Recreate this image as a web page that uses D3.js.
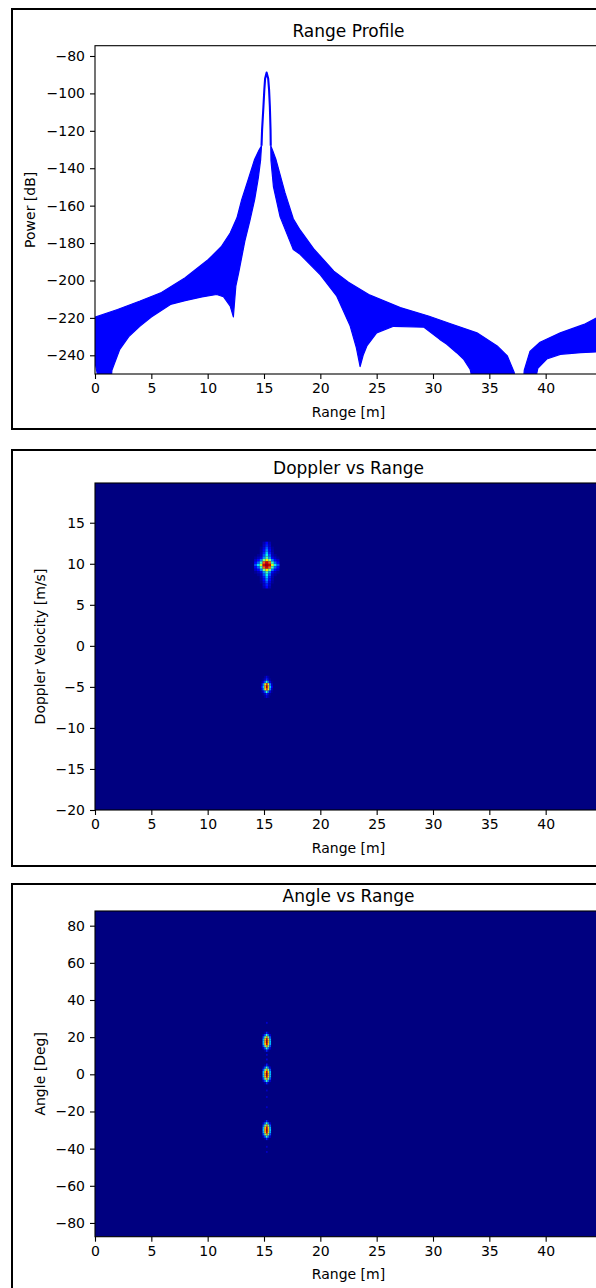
<!DOCTYPE html>
<html>
<head>
<meta charset="utf-8">
<script src="https://cdn.jsdelivr.net/npm/d3@7"></script>
<style>
  body { margin: 0; background: #fff; }
  text { font-family: "DejaVu Sans", sans-serif; fill: #000; }
</style>
</head>
<body>
<script>
// ---- data ----
const rangeTicks = [0, 5, 10, 15, 20, 25, 30, 35, 40];
const powerTicks = [-240, -220, -200, -180, -160, -140, -120, -100, -80];
const velocityTicks = [-20, -15, -10, -5, 0, 5, 10, 15];
const angleTicks = [-80, -60, -40, -20, 0, 20, 40, 60, 80];

// range profile: the trace oscillates so fast it shows as a band, kept as envelopes
const leftUpperX = [0, 2, 4, 5.9, 8, 10.06, 11.2, 12.0, 12.6, 13.02, 13.6, 14.15, 14.5, 14.78];
const leftUpperDb = [-219.6, -215.5, -211, -206.4, -198.5, -188.8, -182, -174.6, -166.5, -156.8, -146, -135.5, -131, -128];
const leftLowerX = [0, 0.4, 1.4, 1.5, 2.2, 3, 4, 5, 6.7, 8, 9.5, 10.8, 11.4, 12.0, 12.28, 12.5, 12.75, 13.3, 13.75, 14.17, 14.5, 14.7, 14.78];
const leftLowerDb = [-243.7, -256, -256, -248, -236.8, -230, -224.4, -219.5, -212.8, -210.8, -208.8, -207.5, -208.7, -213.7, -219.5, -203, -196, -179, -168, -156.8, -145, -135.5, -128];

const lobeX = [14.78, 14.83, 14.95, 15.03, 15.1, 15.23, 15.37, 15.45, 15.52, 15.58, 15.6];
const lobeDb = [-128, -119.5, -107, -98, -92, -88.9, -92, -98, -107, -119.5, -128];

const rightUpperX = [15.6, 15.8, 16.07, 16.87, 17.6, 18.2, 19.4, 21.2, 22.5, 24.3, 27.1, 29.6, 31.5, 33.9, 35.7, 36.6, 37.2, 37.4];
const rightUpperDb = [-128, -131, -135.5, -153.2, -167, -173, -183, -195, -201, -207.5, -214.5, -219, -223, -228, -235, -240.4, -249, -256];
const rightLowerX = [15.6, 15.62, 15.84, 16.43, 17.6, 18.2, 20.0, 21.46, 22.65, 23.2, 23.53, 23.8, 24.13, 25.0, 26.5, 29.2, 30.6, 31.2, 32.1, 32.7, 33.3, 33.6];
const rightLowerDb = [-128, -136, -150, -166, -183.5, -186, -197, -208.4, -224.4, -236, -246, -240, -235, -228, -224.5, -225, -231.5, -234, -238.6, -242, -247.5, -256];

const farUpperX = [38.0, 38.1, 38.6, 39.5, 41.3, 43.4, 44.5, 45.2];
const farUpperDb = [-256, -248, -238, -233, -228, -223.5, -220, -218];
const farLowerX = [39.0, 39.3, 40.1, 41.3, 43.1, 45.2];
const farLowerDb = [-256, -247, -242, -239.5, -238.6, -238];

// doppler map targets
const dopplerRanges = [15.25, 15.25];
const dopplerVelocities = [9.84, -5.0];
const dopplerCellA = [0.25, 0.3];
const dopplerCellB = [0.15, 0.3];
const dopplerSpotA = [
  [0, 0, 0, 0.04, 0.11, 0.04, 0, 0, 0],
  [0, 0, 0, 0.06, 0.15, 0.06, 0, 0, 0],
  [0, 0, 0.02, 0.08, 0.2, 0.08, 0.02, 0, 0],
  [0, 0, 0.03, 0.11, 0.25, 0.11, 0.03, 0, 0],
  [0, 0, 0.04, 0.15, 0.31, 0.15, 0.04, 0, 0],
  [0, 0.02, 0.05, 0.2, 0.36, 0.2, 0.05, 0.02, 0],
  [0.02, 0.05, 0.1, 0.27, 0.44, 0.27, 0.1, 0.05, 0.02],
  [0.06, 0.12, 0.24, 0.5, 0.66, 0.5, 0.24, 0.12, 0.06],
  [0.12, 0.22, 0.42, 0.8, 0.92, 0.8, 0.42, 0.22, 0.12],
  [0.2, 0.35, 0.6, 0.92, 0.97, 0.92, 0.6, 0.35, 0.2],
  [0.12, 0.22, 0.42, 0.8, 0.92, 0.8, 0.42, 0.22, 0.12],
  [0.06, 0.12, 0.24, 0.5, 0.66, 0.5, 0.24, 0.12, 0.06],
  [0.02, 0.05, 0.1, 0.27, 0.44, 0.27, 0.1, 0.05, 0.02],
  [0, 0.02, 0.05, 0.2, 0.36, 0.2, 0.05, 0.02, 0],
  [0, 0, 0.04, 0.15, 0.31, 0.15, 0.04, 0, 0],
  [0, 0, 0.03, 0.11, 0.25, 0.11, 0.03, 0, 0],
  [0, 0, 0.02, 0.08, 0.2, 0.08, 0.02, 0, 0],
  [0, 0, 0, 0.06, 0.15, 0.06, 0, 0, 0],
  [0, 0, 0, 0.04, 0.11, 0.04, 0, 0, 0]
];
const dopplerSpotB = [
  [0, 0, 0.03, 0.08, 0.03, 0, 0],
  [0, 0.02, 0.06, 0.16, 0.06, 0.02, 0],
  [0.02, 0.08, 0.22, 0.42, 0.22, 0.08, 0.02],
  [0.06, 0.25, 0.62, 0.85, 0.62, 0.25, 0.06],
  [0.12, 0.32, 0.72, 0.96, 0.72, 0.32, 0.12],
  [0.06, 0.25, 0.62, 0.85, 0.62, 0.25, 0.06],
  [0.02, 0.08, 0.22, 0.42, 0.22, 0.08, 0.02],
  [0, 0.02, 0.06, 0.16, 0.06, 0.02, 0],
  [0, 0, 0.03, 0.08, 0.03, 0, 0]
];

// angle map targets
const angleRanges = [15.25, 15.25, 15.25];
const angleValues = [17.5, 0, -30];
const angleCell = [0.15, 1.2];
const angleSpot = [
  [0, 0.03, 0.16, 0.03, 0],
  [0.06, 0.22, 0.42, 0.22, 0.06],
  [0.2, 0.48, 0.75, 0.48, 0.2],
  [0.3, 0.68, 0.93, 0.68, 0.3],
  [0.32, 0.72, 0.97, 0.72, 0.32],
  [0.3, 0.68, 0.93, 0.68, 0.3],
  [0.2, 0.48, 0.75, 0.48, 0.2],
  [0.06, 0.22, 0.42, 0.22, 0.06],
  [0, 0.03, 0.16, 0.03, 0]
];
const sidelobeAngles = [27.7, 13, 10.5, 8, 5.5, -8.7, -12.2, -17.7, -39, -41.8];
const sidelobeValues = [0.07, 0.08, 0.07, 0.08, 0.07, 0.06, 0.06, 0.06, 0.06, 0.06];

// ---- jet colormap ----
var jetR = d3.scaleLinear().domain([0, 0.35, 0.66, 0.89, 1]).range([0, 0, 1, 1, 0.5]).clamp(true);
var jetG = d3.scaleLinear().domain([0, 0.125, 0.375, 0.64, 0.91, 1]).range([0, 0, 1, 1, 0, 0]).clamp(true);
var jetB = d3.scaleLinear().domain([0, 0.11, 0.34, 0.65, 1]).range([0.5, 1, 1, 0, 0]).clamp(true);
function jet(v) {
  return d3.rgb(jetR(v) * 255, jetG(v) * 255, jetB(v) * 255).toString();
}

var W = 596, H = 1288;
var left = 95, right = 602;

var svg = d3.select("body").append("svg")
  .attr("width", W)
  .attr("height", H);

svg.append("rect").attr("width", W).attr("height", H).attr("fill", "#fff");

function frame(y0, y1) {
  svg.append("rect")
    .attr("x", 12).attr("y", y0)
    .attr("width", 640).attr("height", y1 - y0)
    .attr("fill", "none")
    .attr("stroke", "#000")
    .attr("stroke-width", 2);
}

function axes(x, y, yTicks, top, bottom, title, ylabel, ylabelX) {
  var g = svg.append("g");
  g.append("g")
    .attr("transform", "translate(0," + bottom + ")")
    .call(d3.axisBottom(x).tickValues(rangeTicks).tickSize(5).tickPadding(4).tickSizeOuter(0))
    .call(s => s.select(".domain").remove());
  g.append("g")
    .attr("transform", "translate(" + left + ",0)")
    .call(d3.axisLeft(y).tickValues(yTicks).tickSize(5).tickPadding(5).tickSizeOuter(0))
    .call(s => s.select(".domain").remove());
  g.selectAll(".tick text").attr("font-size", 14).attr("font-family", "DejaVu Sans").attr("fill", "#000");
  g.selectAll(".tick line").attr("stroke", "#000").attr("stroke-width", 1.1);

  g.append("rect")
    .attr("x", left).attr("y", top)
    .attr("width", right - left).attr("height", bottom - top)
    .attr("fill", "none").attr("stroke", "#000").attr("stroke-width", 1.1);

  g.append("text")
    .attr("x", (left + right) / 2).attr("y", top - 9)
    .attr("text-anchor", "middle").attr("font-size", 17)
    .text(title);
  g.append("text")
    .attr("x", (left + right) / 2).attr("y", bottom + 42.5)
    .attr("text-anchor", "middle").attr("font-size", 14)
    .text("Range [m]");
  g.append("text")
    .attr("transform", "translate(" + ylabelX + "," + (top + bottom) / 2 + ") rotate(-90)")
    .attr("text-anchor", "middle").attr("font-size", 14)
    .text(ylabel);
}

function zipPts(xs, ys) {
  return xs.map((v, i) => [v, ys[i]]);
}

// ---- panel 1: range profile ----
var p1 = { top: 45.7, bottom: 374 };
frame(9, 429);
var x1 = d3.scaleLinear().domain([0, 45]).range([left, right]);
var y1 = d3.scaleLinear().domain([-250, -74.5]).range([p1.bottom, p1.top]);

svg.append("clipPath").attr("id", "clip1")
  .append("rect").attr("x", left).attr("y", p1.top).attr("width", right - left).attr("height", p1.bottom - p1.top);

var bandLine = d3.line().x(d => x1(d[0])).y(d => y1(d[1]));
var bands = [
  zipPts(leftUpperX, leftUpperDb).concat(zipPts(leftLowerX, leftLowerDb).reverse()),
  zipPts(rightUpperX, rightUpperDb).concat(zipPts(rightLowerX, rightLowerDb).reverse()),
  zipPts(farUpperX, farUpperDb).concat(zipPts(farLowerX, farLowerDb).reverse())
];
var plot1 = svg.append("g").attr("clip-path", "url(#clip1)");
plot1.selectAll("path.band")
  .data(bands)
  .enter()
  .append("path")
  .attr("class", "band")
  .attr("d", d => bandLine(d) + "Z")
  .attr("fill", "#0000ff")
  .attr("stroke", "#0000ff")
  .attr("stroke-width", 1.2)
  .attr("stroke-linejoin", "round");
plot1.append("path")
  .attr("d", bandLine(zipPts(lobeX, lobeDb)))
  .attr("fill", "none")
  .attr("stroke", "#0000ff")
  .attr("stroke-width", 2.1)
  .attr("stroke-linejoin", "round");

axes(x1, y1, powerTicks, p1.top, p1.bottom, "Range Profile", "Power [dB]", 35);

// ---- heatmap helper ----
function spotCells(cx, cy, grid, cell) {
  var nr = grid.length, nc = grid[0].length, out = [];
  grid.forEach((row, i) => row.forEach((v, j) => {
    if (v <= 0) return;
    out.push({
      x: cx + (j - (nc - 1) / 2) * cell[0],
      y: cy + ((nr - 1) / 2 - i) * cell[1],
      w: cell[0], h: cell[1], v: v
    });
  }));
  return out;
}

function heatmap(x, y, top, bottom, cells) {
  var g = svg.append("g");
  g.append("rect")
    .attr("x", left).attr("y", top)
    .attr("width", right - left).attr("height", bottom - top)
    .attr("fill", jet(0));
  g.selectAll("rect.cell")
    .data(cells)
    .enter()
    .append("rect")
    .attr("class", "cell")
    .attr("x", d => x(d.x - d.w / 2))
    .attr("y", d => y(d.y + d.h / 2))
    .attr("width", d => x(d.x + d.w / 2) - x(d.x - d.w / 2))
    .attr("height", d => y(d.y - d.h / 2) - y(d.y + d.h / 2))
    .attr("fill", d => jet(d.v));
}

// ---- panel 2: doppler vs range ----
var p2 = { top: 483, bottom: 810 };
frame(450, 866);
var x2 = d3.scaleLinear().domain([0, 45]).range([left, right]);
var y2 = d3.scaleLinear().domain([-20, 19.84]).range([p2.bottom, p2.top]);
var dCells = spotCells(dopplerRanges[0], dopplerVelocities[0], dopplerSpotA, dopplerCellA)
  .concat(spotCells(dopplerRanges[1], dopplerVelocities[1], dopplerSpotB, dopplerCellB));
heatmap(x2, y2, p2.top, p2.bottom, dCells);
axes(x2, y2, velocityTicks, p2.top, p2.bottom, "Doppler vs Range", "Doppler Velocity [m/s]", 44.5);

// ---- panel 3: angle vs range ----
var p3 = { top: 911, bottom: 1236.7 };
frame(884, 1310);
var x3 = d3.scaleLinear().domain([0, 45]).range([left, right]);
var y3 = d3.scaleLinear().domain([-87.4, 87.9]).range([p3.bottom, p3.top]);
var aCells = [];
sidelobeAngles.forEach((a, i) => {
  aCells.push({ x: 15.25, y: a, w: angleCell[0], h: 1.0, v: sidelobeValues[i] });
});
angleValues.forEach((a, i) => {
  aCells = aCells.concat(spotCells(angleRanges[i], a, angleSpot, angleCell));
});
heatmap(x3, y3, p3.top, p3.bottom, aCells);
axes(x3, y3, angleTicks, p3.top, p3.bottom, "Angle vs Range", "Angle [Deg]", 44.5);
</script>
</body>
</html>
